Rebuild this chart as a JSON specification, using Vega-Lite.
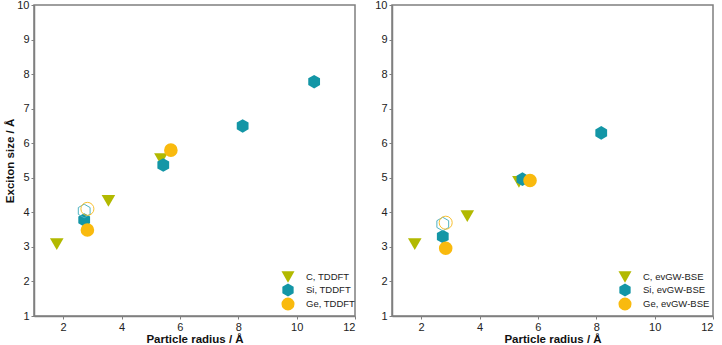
{
  "$schema": "https://vega.github.io/schema/vega-lite/v6.json",
  "padding": {"left": 4, "top": -2, "right": 5, "bottom": 0},
  "background": "white",
  "datasets": {
    "pts": [
      {"method": "TDDFT", "el": "C", "x": 1.78, "y": 3.08, "open": false},
      {"method": "TDDFT", "el": "C", "x": 3.55, "y": 4.33, "open": false},
      {"method": "TDDFT", "el": "C", "x": 5.35, "y": 5.54, "open": false},
      {"method": "TDDFT", "el": "Si", "x": 2.72, "y": 3.78, "open": false},
      {"method": "TDDFT", "el": "Si", "x": 5.43, "y": 5.37, "open": false},
      {"method": "TDDFT", "el": "Si", "x": 8.15, "y": 6.5, "open": false},
      {"method": "TDDFT", "el": "Si", "x": 10.6, "y": 7.78, "open": false},
      {"method": "TDDFT", "el": "Ge", "x": 2.83, "y": 3.49, "open": false},
      {"method": "TDDFT", "el": "Ge", "x": 5.69, "y": 5.8, "open": false},
      {"method": "TDDFT", "el": "Si", "x": 2.72, "y": 4.04, "open": true},
      {"method": "TDDFT", "el": "Ge", "x": 2.83, "y": 4.1, "open": true},
      {"method": "evGW-BSE", "el": "C", "x": 1.78, "y": 3.08, "open": false},
      {"method": "evGW-BSE", "el": "C", "x": 3.58, "y": 3.89, "open": false},
      {"method": "evGW-BSE", "el": "C", "x": 5.35, "y": 4.88, "open": false},
      {"method": "evGW-BSE", "el": "Si", "x": 2.74, "y": 3.3, "open": false},
      {"method": "evGW-BSE", "el": "Si", "x": 5.47, "y": 4.96, "open": false},
      {"method": "evGW-BSE", "el": "Si", "x": 8.17, "y": 6.3, "open": false},
      {"method": "evGW-BSE", "el": "Ge", "x": 2.84, "y": 2.96, "open": false},
      {"method": "evGW-BSE", "el": "Ge", "x": 5.73, "y": 4.92, "open": false},
      {"method": "evGW-BSE", "el": "Si", "x": 2.74, "y": 3.66, "open": true},
      {"method": "evGW-BSE", "el": "Ge", "x": 2.84, "y": 3.7, "open": true}
    ]
  },
  "spacing": 37,
  "bounds": "flush",
  "resolve": {
    "scale": {"color": "independent", "shape": "independent"},
    "legend": {"color": "independent", "shape": "independent"}
  },
  "hconcat": [
    {
      "width": 321,
      "height": 311,
      "data": {"name": "pts"},
      "transform": [{"filter": "datum.method == 'TDDFT'"}],
      "encoding": {
        "x": {"field": "x", "type": "quantitative", "scale": {"domain": [1, 12], "nice": false}, "axis": {"values": [2, 4, 6, 8, 10, 12], "title": "Particle radius / Å"}},
        "y": {"field": "y", "type": "quantitative", "scale": {"domain": [1, 10], "nice": false}, "axis": {"values": [1, 2, 3, 4, 5, 6, 7, 8, 9, 10], "title": "Exciton size / Å"}}
      },
      "layer": [
        {
          "transform": [{"filter": "!datum.open"}],
          "mark": {"type": "point", "filled": true, "opacity": 1, "size": 185},
          "encoding": {
            "color": {"field": "el", "type": "nominal", "scale": {"domain": ["C", "Si", "Ge"], "range": ["#b2b900", "#1396a6", "#f9ba0e"]},
              "legend": {"orient": "none", "legendX": 247, "legendY": 265, "title": null, "labelExpr": "datum.label + ', TDDFT'", "labelOffset": 11}},
            "shape": {"field": "el", "type": "nominal", "scale": {"domain": ["C", "Si", "Ge"], "range": ["triangle-down", "M0,-1L0.866,-0.5L0.866,0.5L0,1L-0.866,0.5L-0.866,-0.5Z", "circle"]},
              "legend": {"orient": "none", "legendX": 247, "legendY": 265, "title": null, "labelExpr": "datum.label + ', TDDFT'", "labelOffset": 11}}
          }
        },
        {
          "transform": [{"filter": "datum.open && datum.el == 'Si'"}],
          "mark": {"type": "point", "filled": false, "color": "#4fb3c2", "strokeWidth": 1, "opacity": 1, "size": 185, "shape": "M0,-1L0.866,-0.5L0.866,0.5L0,1L-0.866,0.5L-0.866,-0.5Z"}
        },
        {
          "transform": [{"filter": "datum.open && datum.el == 'Ge'"}],
          "mark": {"type": "point", "filled": false, "color": "#f8c030", "strokeWidth": 1, "opacity": 1, "size": 170, "shape": "circle"}
        }
      ]
    },
    {
      "width": 321,
      "height": 311,
      "data": {"name": "pts"},
      "transform": [{"filter": "datum.method == 'evGW-BSE'"}],
      "encoding": {
        "x": {"field": "x", "type": "quantitative", "scale": {"domain": [1, 12], "nice": false}, "axis": {"values": [2, 4, 6, 8, 10, 12], "title": "Particle radius / Å"}},
        "y": {"field": "y", "type": "quantitative", "scale": {"domain": [1, 10], "nice": false}, "axis": {"values": [1, 2, 3, 4, 5, 6, 7, 8, 9, 10], "title": null}}
      },
      "layer": [
        {
          "transform": [{"filter": "!datum.open"}],
          "mark": {"type": "point", "filled": true, "opacity": 1, "size": 185},
          "encoding": {
            "color": {"field": "el", "type": "nominal", "scale": {"domain": ["C", "Si", "Ge"], "range": ["#b2b900", "#1396a6", "#f9ba0e"]},
              "legend": {"orient": "none", "legendX": 226, "legendY": 265, "title": null, "labelExpr": "datum.label + ', evGW-BSE'", "labelOffset": 11}},
            "shape": {"field": "el", "type": "nominal", "scale": {"domain": ["C", "Si", "Ge"], "range": ["triangle-down", "M0,-1L0.866,-0.5L0.866,0.5L0,1L-0.866,0.5L-0.866,-0.5Z", "circle"]},
              "legend": {"orient": "none", "legendX": 226, "legendY": 265, "title": null, "labelExpr": "datum.label + ', evGW-BSE'", "labelOffset": 11}}
          }
        },
        {
          "transform": [{"filter": "datum.open && datum.el == 'Si'"}],
          "mark": {"type": "point", "filled": false, "color": "#4fb3c2", "strokeWidth": 1, "opacity": 1, "size": 185, "shape": "M0,-1L0.866,-0.5L0.866,0.5L0,1L-0.866,0.5L-0.866,-0.5Z"}
        },
        {
          "transform": [{"filter": "datum.open && datum.el == 'Ge'"}],
          "mark": {"type": "point", "filled": false, "color": "#f8c030", "strokeWidth": 1, "opacity": 1, "size": 170, "shape": "circle"}
        }
      ]
    }
  ],
  "config": {
    "font": "Liberation Sans",
    "view": {"stroke": "#7f7f7f", "strokeWidth": 1.5},
    "axis": {
      "grid": false,
      "labelOverlap": false,
      "domainColor": "#7f7f7f",
      "domainWidth": 1.5,
      "tickColor": "#7f7f7f",
      "tickSize": 3,
      "labelPadding": 2,
      "titlePadding": 1,
      "labelFont": "Liberation Sans",
      "labelFontSize": 11,
      "labelColor": "#222222",
      "titleFont": "Liberation Sans",
      "titleFontSize": 11.5,
      "titleFontWeight": "bold",
      "titleColor": "#111111"
    },
    "legend": {
      "labelFont": "Liberation Sans",
      "labelFontSize": 9.5,
      "labelColor": "#222222",
      "symbolSize": 170,
      "symbolStrokeWidth": 0,
      "rowPadding": 0,
      "padding": 0
    }
  }
}
